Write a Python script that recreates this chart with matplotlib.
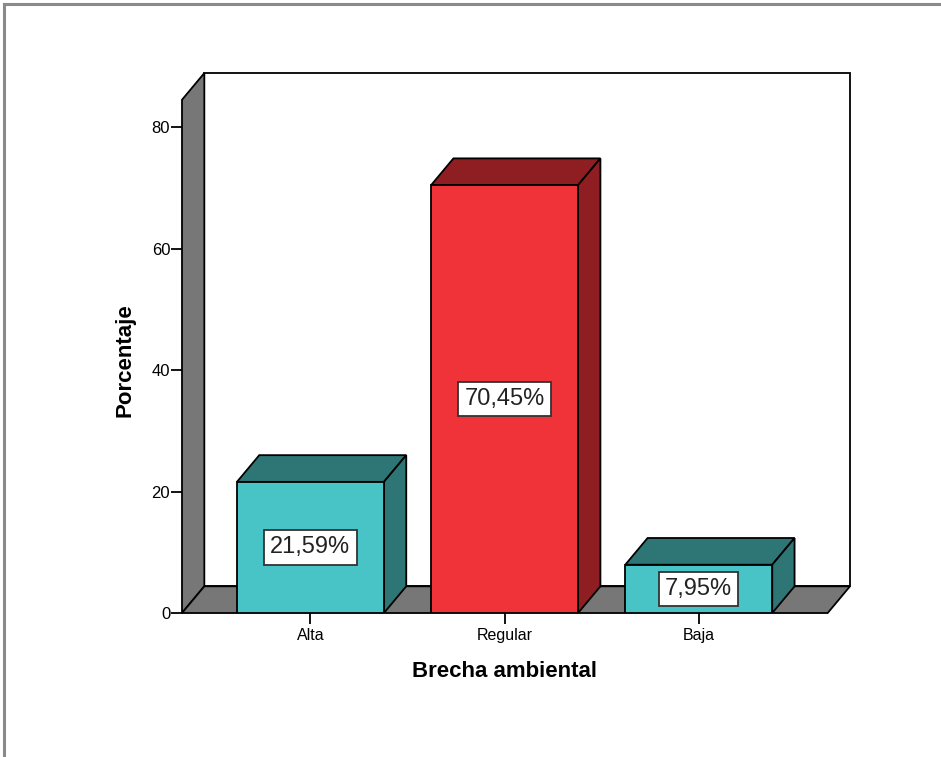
import matplotlib
matplotlib.use("Agg")
import matplotlib.pyplot as plt
from matplotlib.lines import Line2D
from matplotlib.patches import Polygon, Rectangle

plt.rcParams["font.family"] = ["Liberation Sans", "DejaVu Sans"]

categories = ["Alta", "Regular", "Baja"]
values = [21.59, 70.45, 7.95]
labels = ["21,59%", "70,45%", "7,95%"]
front_colors = ["#48C4C7", "#F03239", "#48C4C7"]
shade_colors = ["#2E7576", "#8F1E22", "#2E7576"]
yticks = [0, 20, 40, 60, 80]

# geometria de la caja 3D (en unidades de datos)
X_LEFT, X_RIGHT = -0.6615, 2.664
DX, DY = 0.115, 4.4
Y_TOP = 88.9
WALL_TOP = Y_TOP - DY
BAR_W = 0.757
EDGE = dict(edgecolor="black", linewidth=1.3, joinstyle="miter")

fig = plt.figure(figsize=(9.41, 7.57), dpi=100)
ax = fig.add_axes([182 / 941, 0.1902, 668 / 941, 0.7133])
ax.set_xlim(X_LEFT, X_RIGHT + DX)
ax.set_ylim(0, Y_TOP)
for s in ax.spines.values():
    s.set_visible(False)

# pared del fondo, pared izquierda y piso
ax.add_patch(Rectangle((X_LEFT + DX, DY), X_RIGHT - X_LEFT, Y_TOP - DY,
                       facecolor="white", clip_on=False, zorder=1, **EDGE))
ax.add_patch(Polygon([(X_LEFT, 0), (X_LEFT, WALL_TOP), (X_LEFT + DX, Y_TOP), (X_LEFT + DX, DY)],
                     facecolor="#777777", clip_on=False, zorder=2, **EDGE))
ax.add_patch(Polygon([(X_LEFT, 0), (X_RIGHT, 0), (X_RIGHT + DX, DY), (X_LEFT + DX, DY)],
                     facecolor="#777777", clip_on=False, zorder=2, **EDGE))

for i, (v, fc, sc, lab) in enumerate(zip(values, front_colors, shade_colors, labels)):
    x0, x1 = i - BAR_W / 2, i + BAR_W / 2
    ax.add_patch(Polygon([(x0, v), (x1, v), (x1 + DX, v + DY), (x0 + DX, v + DY)],
                         facecolor=sc, zorder=3, **EDGE))
    ax.add_patch(Polygon([(x1, 0), (x1 + DX, DY), (x1 + DX, v + DY), (x1, v)],
                         facecolor=sc, zorder=3, **EDGE))
    ax.add_patch(Rectangle((x0, 0), BAR_W, v, facecolor=fc, zorder=4, **EDGE))
    ax.text(i, v / 2, lab, ha="center", va="center", fontsize=17, color="#222222", zorder=5,
            bbox=dict(boxstyle="square,pad=0.26", facecolor="white", edgecolor="#333333", linewidth=1.3))

ax.set_xticks(range(len(categories)), categories, fontsize=11.5)
ax.set_yticks(yticks, [str(t) for t in yticks], fontsize=12)
ax.tick_params(axis="x", length=8, width=1.3, pad=3)
ax.tick_params(axis="y", length=8, width=1.3, pad=0.5)

ax.set_xlabel("Brecha ambiental", fontsize=16, fontweight="bold")
ax.xaxis.set_label_coords(0.4835, -0.089)
ax.set_ylabel("Porcentaje", fontsize=16, fontweight="bold")
ax.yaxis.set_label_coords(-0.069, 0.4685)

# marco gris del visor
fig.add_artist(Line2D([0.004, 1.0], [0.9945, 0.9945], color="#8A8A8A", linewidth=2.2))
fig.add_artist(Line2D([0.004, 0.004], [0.0, 0.9945], color="#8A8A8A", linewidth=2.2))

fig.savefig("out.png", dpi=100)
